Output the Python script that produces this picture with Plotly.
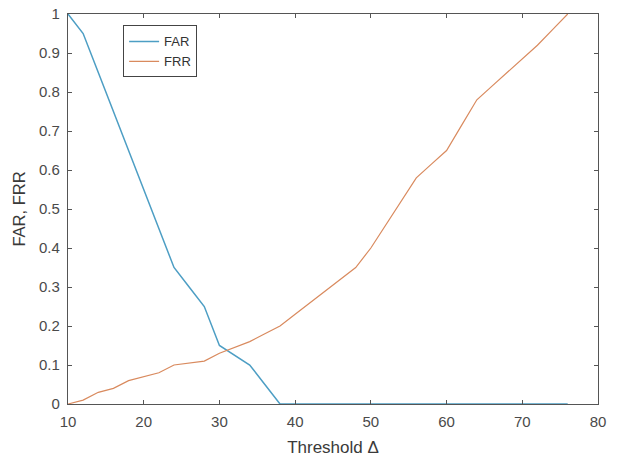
import plotly.graph_objects as go

thresholds = [10, 12, 14, 16, 18, 20, 22, 24, 26, 28, 30, 32, 34, 36, 38, 40, 42, 44, 46, 48,
              50, 52, 54, 56, 58, 60, 62, 64, 66, 68, 70, 72, 74, 76]
far = [1.0, 0.95, 0.85, 0.75, 0.65, 0.55, 0.45, 0.35, 0.30, 0.25, 0.15, 0.125, 0.10, 0.05, 0.0,
       0, 0, 0, 0, 0, 0, 0, 0, 0, 0, 0, 0, 0, 0, 0, 0, 0, 0, 0]
frr = [0.0, 0.01, 0.03, 0.04, 0.06, 0.07, 0.08, 0.10, 0.105, 0.11, 0.13, 0.145, 0.16, 0.18, 0.20,
       0.23, 0.26, 0.29, 0.32, 0.35, 0.40, 0.46, 0.52, 0.58, 0.615, 0.65, 0.715, 0.78, 0.815, 0.85,
       0.885, 0.92, 0.96, 1.0]

x_ticks = [10, 20, 30, 40, 50, 60, 70, 80]
y_ticks = [0, 0.1, 0.2, 0.3, 0.4, 0.5, 0.6, 0.7, 0.8, 0.9, 1]
y_tick_labels = ["0", "0.1", "0.2", "0.3", "0.4", "0.5", "0.6", "0.7", "0.8", "0.9", "1"]

FONT = "Liberation Sans, Arial"

fig = go.Figure()
fig.add_trace(go.Scatter(x=thresholds, y=far, mode="lines", name="FAR",
                         line=dict(color="#4d9ec4", width=1.5)))
fig.add_trace(go.Scatter(x=thresholds, y=frr, mode="lines", name="FRR",
                         line=dict(color="#d98a5e", width=1.2)))

axis_common = dict(showline=True, linecolor="#555555", linewidth=1.2, mirror="ticks",
                   ticks="inside", ticklen=4, tickcolor="#555555", showgrid=False,
                   zeroline=False, ticklabelstandoff=4, automargin=False,
                   tickfont=dict(family=FONT, size=15, color="#4a4a4a"))

fig.update_layout(
    width=619, height=457,
    margin=dict(l=68, r=21, t=14, b=53),
    paper_bgcolor="white", plot_bgcolor="white",
    xaxis=dict(range=[10, 80], tickvals=x_ticks,
               title=dict(text="Threshold Δ", standoff=13,
                          font=dict(family=FONT, size=17, color="#3a3a3a")),
               **axis_common),
    yaxis=dict(range=[0, 1], tickvals=y_ticks, ticktext=y_tick_labels,
               title=dict(text="FAR, FRR", standoff=9,
                          font=dict(family=FONT, size=16.5, color="#3a3a3a")),
               **axis_common),
    legend=dict(x=0.104, y=0.904, xanchor="left", yanchor="middle", bordercolor="#444444",
                borderwidth=1, bgcolor="white",
                font=dict(family=FONT, size=13, color="#333333"),
                tracegroupgap=0, itemwidth=30),
    showlegend=True,
)

fig.write_html("out.html")
